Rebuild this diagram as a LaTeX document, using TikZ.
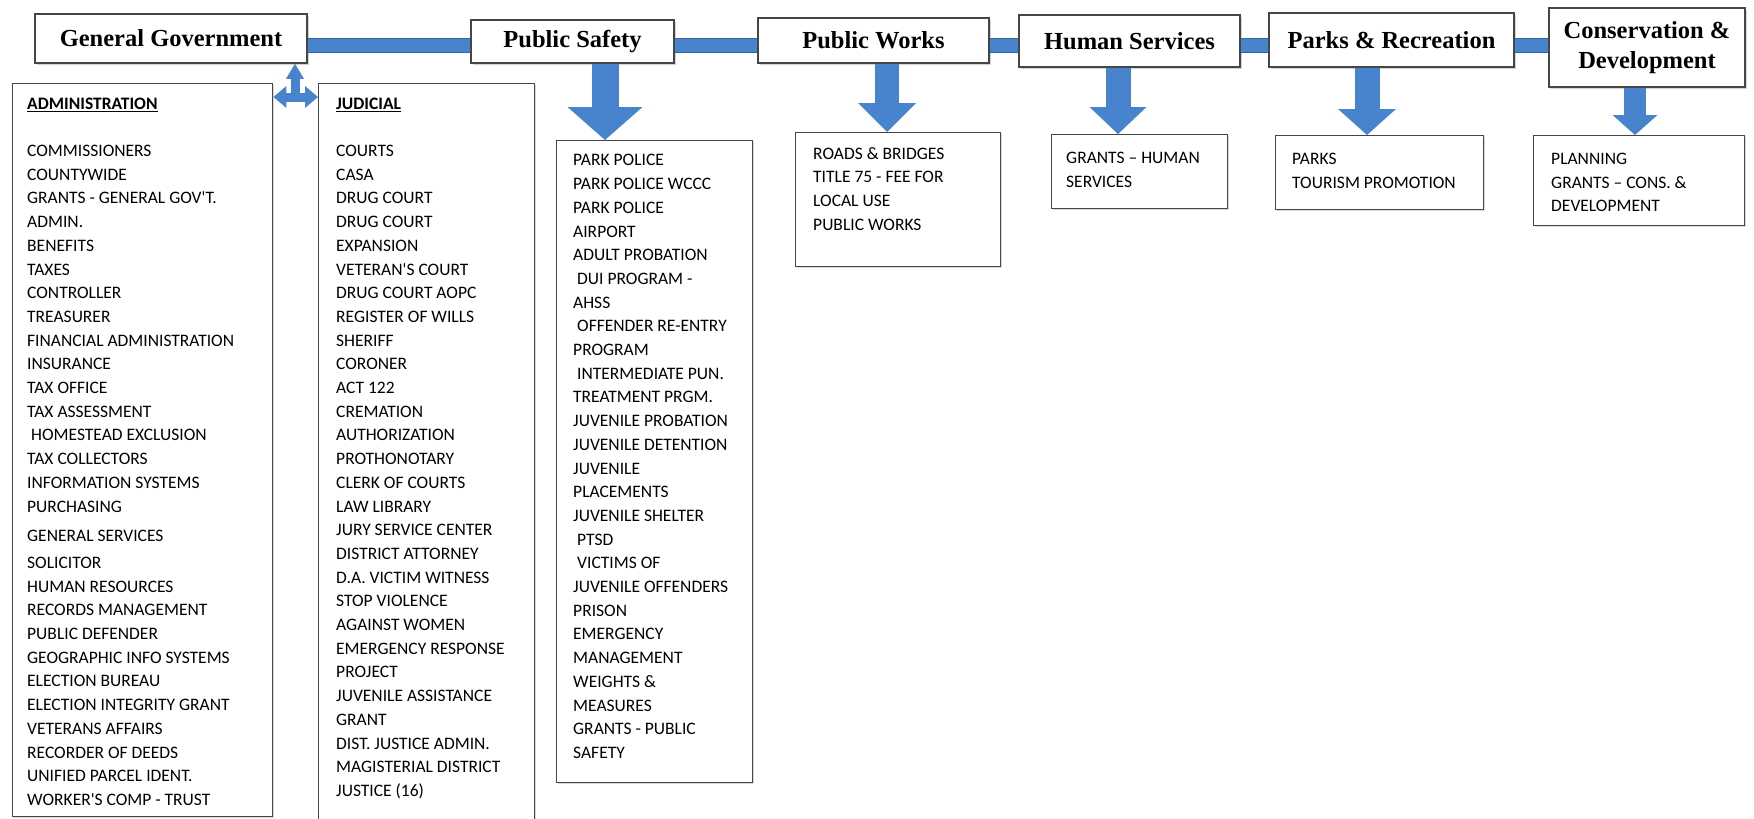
\documentclass[tikz,border=0pt]{standalone}
\usepackage{fontspec}
\setmainfont{Liberation Serif}
\newfontfamily\listfont{Carlito}
\usetikzlibrary{arrows.meta,shadows}

\definecolor{deptblue}{RGB}{72,132,205}
\definecolor{boxedge}{RGB}{70,70,70}

\tikzset{
  unit/.style={draw=boxedge, line width=1.6pt, fill=white, align=center, inner sep=0pt,
    font=\fontsize{24.5}{30}\selectfont\bfseries,
    drop shadow={shadow xshift=2pt, shadow yshift=-2pt, opacity=.35}},
  listbox/.style={draw=boxedge, line width=1.4pt, fill=white, anchor=north west,
    drop shadow={shadow xshift=1.5pt, shadow yshift=-1.5pt, opacity=.3}},
  listtext/.style={anchor=north west, inner sep=0pt, align=left,
    font=\listfont\fontsize{17.5}{23.7}\selectfont},
  bar/.style={draw=deptblue!75!black, line width=1pt, double=deptblue, double distance=13pt},
  link/.style={draw=deptblue, line width=9pt},
  drop/.style n args={3}{draw=deptblue, line width=#1,
    -{Triangle[width=#2, length=#3, line width=0pt]}}
}

\begin{document}
\begin{tikzpicture}[x=1pt, y=-1pt]
  \useasboundingbox (0,0) rectangle (1754,819);

  % departments
  \node[unit, minimum width=272pt, minimum height=49pt] (gg) at (171,38.5) {General Government};
  \node[unit, minimum width=203pt, minimum height=43pt] (ps) at (572.5,41.5) {Public Safety};
  \node[unit, minimum width=231pt, minimum height=45pt] (pw) at (873.5,40.5) {Public Works};
  \node[unit, minimum width=221pt, minimum height=52pt] (hs) at (1129.5,41) {Human Services};
  \node[unit, minimum width=245pt, minimum height=54pt] (pr) at (1391.5,40) {Parks \& Recreation};
  \node[unit, minimum width=196pt, minimum height=79pt] (cd) at (1647,47.5) {Conservation \&\\ Development};

  % offices
  \node[listbox, minimum width=260pt, minimum height=733pt] (admin) at (12,83) {};
  \node[listbox, minimum width=216pt, minimum height=750pt] (judicial) at (318,83) {};
  \node[listbox, minimum width=196pt, minimum height=642pt] (pslist) at (556,140) {};
  \node[listbox, minimum width=205pt, minimum height=134pt] (pwlist) at (795,132) {};
  \node[listbox, minimum width=176pt, minimum height=74pt] (hslist) at (1051,134) {};
  \node[listbox, minimum width=208pt, minimum height=74pt] (prlist) at (1275,135) {};
  \node[listbox, minimum width=211pt, minimum height=90pt] (cdlist) at (1533,135) {};

  \node[listtext] (admintext) at (27,97.5) {\underline{\textbf{ADMINISTRATION}}\\[23.7pt]
    COMMISSIONERS\\ COUNTYWIDE\\ GRANTS - GENERAL GOV'T.\\ ADMIN.\\ BENEFITS\\ TAXES\\
    CONTROLLER\\ TREASURER\\ FINANCIAL ADMINISTRATION\\ INSURANCE\\ TAX OFFICE\\
    TAX ASSESSMENT\\ \hspace*{4pt}HOMESTEAD EXCLUSION\\ TAX COLLECTORS\\
    INFORMATION SYSTEMS\\ PURCHASING\\[6pt] GENERAL SERVICES\\[3pt] SOLICITOR\\
    HUMAN RESOURCES\\ RECORDS MANAGEMENT\\ PUBLIC DEFENDER\\ GEOGRAPHIC INFO SYSTEMS\\
    ELECTION BUREAU\\ ELECTION INTEGRITY GRANT\\ VETERANS AFFAIRS\\ RECORDER OF DEEDS\\
    UNIFIED PARCEL IDENT.\\ WORKER'S COMP - TRUST};
  \node[listtext] (judicialtext) at (336,97.5) {\underline{\textbf{JUDICIAL}}\\[23.7pt]
    COURTS\\ CASA\\ DRUG COURT\\ DRUG COURT\\ EXPANSION\\ VETERAN'S COURT\\
    DRUG COURT AOPC\\ REGISTER OF WILLS\\ SHERIFF\\ CORONER\\ ACT 122\\ CREMATION\\
    AUTHORIZATION\\ PROTHONOTARY\\ CLERK OF COURTS\\ LAW LIBRARY\\ JURY SERVICE CENTER\\
    DISTRICT ATTORNEY\\ D.A. VICTIM WITNESS\\ STOP VIOLENCE\\ AGAINST WOMEN\\
    EMERGENCY RESPONSE\\ PROJECT\\ JUVENILE ASSISTANCE\\ GRANT\\ DIST. JUSTICE ADMIN.\\
    MAGISTERIAL DISTRICT\\ JUSTICE (16)};
  \node[listtext] (pstext) at (573,154.4) {PARK POLICE\\ PARK POLICE WCCC\\ PARK POLICE\\
    AIRPORT\\ ADULT PROBATION\\ \hspace*{4pt}DUI PROGRAM -\\ AHSS\\
    \hspace*{4pt}OFFENDER RE-ENTRY\\ PROGRAM\\ \hspace*{4pt}INTERMEDIATE PUN.\\
    TREATMENT PRGM.\\ JUVENILE PROBATION\\ JUVENILE DETENTION\\ JUVENILE\\ PLACEMENTS\\
    JUVENILE SHELTER\\ \hspace*{4pt}PTSD\\ \hspace*{4pt}VICTIMS OF\\ JUVENILE OFFENDERS\\
    PRISON\\ EMERGENCY\\ MANAGEMENT\\ WEIGHTS \&\\ MEASURES\\ GRANTS - PUBLIC\\ SAFETY};
  \node[listtext] (pwtext) at (813,147) {ROADS \& BRIDGES\\ TITLE 75 - FEE FOR\\
    LOCAL USE\\ PUBLIC WORKS};
  \node[listtext] (hstext) at (1066,152) {GRANTS – HUMAN\\ SERVICES};
  \node[listtext] (prtext) at (1292,153) {PARKS\\ TOURISM PROMOTION};
  \node[listtext] (cdtext) at (1551,153) {PLANNING\\ GRANTS – CONS. \&\\ DEVELOPMENT};

  % connectors
  \coordinate (barline) at (0,45);
  \draw[bar] (gg.east |- barline) -- (ps.west |- barline);
  \draw[bar] (ps.east |- barline) -- (pw.west |- barline);
  \draw[bar] (pw.east |- barline) -- (hs.west |- barline);
  \draw[bar] (hs.east |- barline) -- (pr.west |- barline);
  \draw[bar] (pr.east |- barline) -- (cd.west |- barline);

  \coordinate (junction) at (295,97);
  \draw[link, -{Triangle[width=18pt, length=15pt, line width=0pt]}] (junction) -- (junction |- gg.south);
  \draw[link, {Triangle[width=22pt, length=13pt, line width=0pt]}-{Triangle[width=22pt, length=13pt, line width=0pt]}]
    (admin.east |- junction) -- (judicial.west |- junction);

  \coordinate (psdrop) at (605,0);
  \coordinate (pwdrop) at (887,0);
  \coordinate (hsdrop) at (1118,0);
  \coordinate (prdrop) at (1367,0);
  \coordinate (cddrop) at (1635,0);
  \draw[drop={27pt}{75pt}{33pt}] (psdrop |- ps.south) -- (psdrop |- pslist.north);
  \draw[drop={24pt}{58pt}{29pt}] (pwdrop |- pw.south) -- (pwdrop |- pwlist.north);
  \draw[drop={25pt}{57pt}{27pt}] (hsdrop |- hs.south) -- (hsdrop |- hslist.north);
  \draw[drop={25pt}{58pt}{26pt}] (prdrop |- pr.south) -- (prdrop |- prlist.north);
  \draw[drop={22pt}{45pt}{20pt}] (cddrop |- cd.south) -- (cddrop |- cdlist.north);
\end{tikzpicture}
\end{document}
